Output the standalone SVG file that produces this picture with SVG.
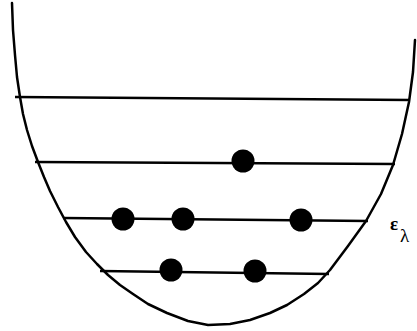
<svg xmlns="http://www.w3.org/2000/svg" width="417" height="331" viewBox="0 0 417 331">
<style>
.well{fill:none;stroke:#000;stroke-width:2.5;stroke-linejoin:round;stroke-linecap:round}
.lvl{stroke:#000;stroke-width:2.5}
.p{fill:#000}
.t{font-family:"Liberation Serif","DejaVu Serif",serif;fill:#000}
</style>
<rect width="417" height="331" fill="#fff"/>
<g id="well">
<polyline class="well" points="12,3 13,30 15,55 17,77 20,97 23,114 27,130 32,146 38,162 44,177 50,191 58,207 66,222 75,237 86,252 97,264 108,275 120,285 133,294 148,304 167,313 188,321 208,325 230,324 250,320 270,313 287,305 304,294 318,283 330,270 348,246 366,221 381,194 393,165 402,134 409,102 413,72 415,40"/>
</g>
<g id="levels">
<line class="lvl" x1="15" y1="97" x2="410" y2="100"/>
<line class="lvl" x1="35" y1="162" x2="395" y2="164"/>
<line class="lvl" x1="63" y1="218" x2="368" y2="221"/>
<line class="lvl" x1="100" y1="271" x2="329" y2="274"/>
</g>
<g id="particles">
<circle class="p" cx="243" cy="161" r="11.5"/>
<circle class="p" cx="123" cy="219" r="11.5"/>
<circle class="p" cx="183" cy="219" r="11.5"/>
<circle class="p" cx="301" cy="220" r="11.5"/>
<circle class="p" cx="171" cy="270" r="11.5"/>
<circle class="p" cx="255" cy="271" r="11.5"/>
</g>
<g id="label">
<text class="t" x="390" y="230" font-size="19" font-weight="bold">ε</text>
<text class="t" x="400" y="242" font-size="19">λ</text>
</g>
</svg>
